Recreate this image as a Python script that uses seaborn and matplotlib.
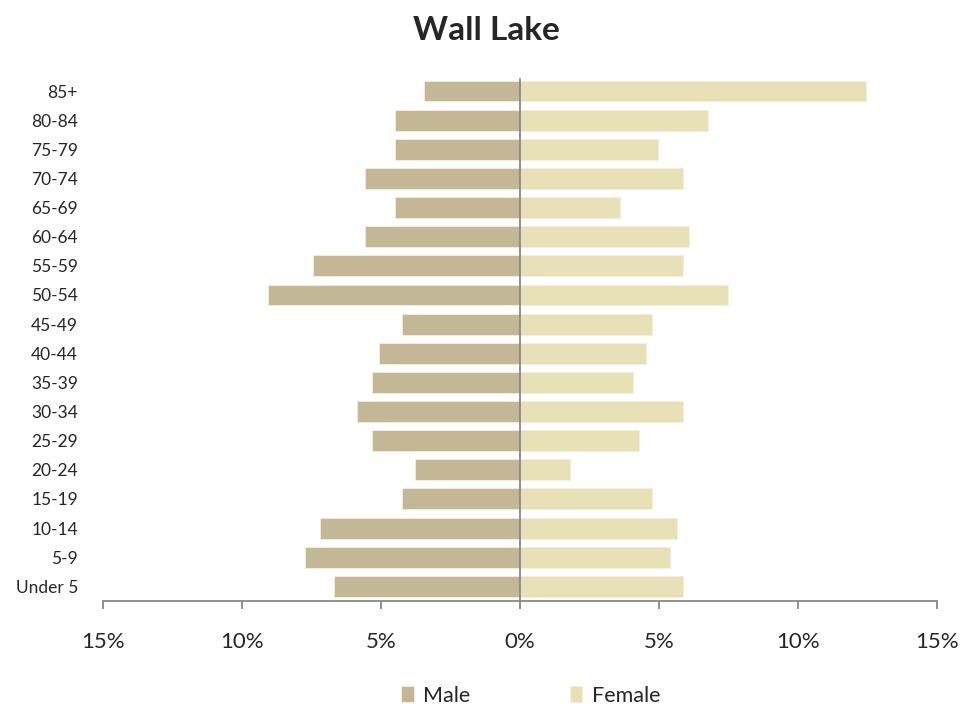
"""Population pyramid for Wall Lake, drawn with seaborn."""
import matplotlib
matplotlib.use("Agg")
import matplotlib.pyplot as plt
from matplotlib.ticker import FuncFormatter
import pandas as pd
import seaborn as sns

sns.set_theme(style="white")
plt.rcParams["font.family"] = ["Lato", "DejaVu Sans"]

# age groups, top to bottom as in the chart
age_groups = ["85+", "80-84", "75-79", "70-74", "65-69", "60-64", "55-59",
              "50-54", "45-49", "40-44", "35-39", "30-34", "25-29", "20-24",
              "15-19", "10-14", "5-9", "Under 5"]
male_pct = [3.45, 4.5, 4.5, 5.58, 4.5, 5.58, 7.45, 9.06, 4.24, 5.07, 5.32,
            5.86, 5.32, 3.78, 4.24, 7.19, 7.73, 6.69]
female_pct = [12.45, 6.76, 4.96, 5.86, 3.6, 6.08, 5.86, 7.48, 4.75, 4.53,
              4.06, 5.86, 4.28, 1.8, 4.75, 5.65, 5.4, 5.86]
x_ticks = [-15, -10, -5, 0, 5, 10, 15]

male_color = "#C4B796"
female_color = "#E8E1B8"

df = pd.concat([
    pd.DataFrame({"age": age_groups, "value": [-v for v in male_pct], "sex": "Male"}),
    pd.DataFrame({"age": age_groups, "value": female_pct, "sex": "Female"}),
])

fig = plt.figure(figsize=(9.79, 7.13), dpi=100)
ax = fig.add_axes([0.1052, 0.1571, 0.8518, 0.7357])

sns.barplot(data=df, x="value", y="age", hue="sex", order=age_groups,
            hue_order=["Male", "Female"], dodge=False, width=0.72,
            palette={"Male": male_color, "Female": female_color},
            saturation=1, edgecolor="#F4F0DC", linewidth=0.6, ax=ax,
            legend=True)

ax.set_xlim(-15, 15)
ax.set_ylim(len(age_groups) - 0.5, -0.5)
ax.set_xticks(x_ticks)
ax.xaxis.set_major_formatter(FuncFormatter(lambda v, _: f"{abs(v):.0f}%"))
ax.set_xlabel("")
ax.set_ylabel("")

# centre line at 0
ax.axvline(0, color="#888888", lw=1.3, ymax=0.995, zorder=3)

for side in ["top", "right", "left"]:
    ax.spines[side].set_visible(False)
ax.spines["bottom"].set_color("#888888")
ax.spines["bottom"].set_linewidth(1.3)

ax.tick_params(axis="x", direction="out", length=6, width=1.3, color="#888888",
               labelsize=16, pad=16, bottom=True)
ax.tick_params(axis="y", length=0, labelsize=12.5, pad=18)

handles, labels = ax.get_legend_handles_labels()
ax.legend_.remove()
fig.legend(handles, labels, loc="center", bbox_to_anchor=(0.542, 0.024),
           ncol=2, frameon=False, fontsize=15.5, handlelength=0.6,
           handleheight=0.75, handletextpad=0.45, columnspacing=4.6)

fig.suptitle("Wall Lake", x=0.497, y=0.978, fontsize=24, fontweight="bold")

fig.savefig("out.png", dpi=100)
